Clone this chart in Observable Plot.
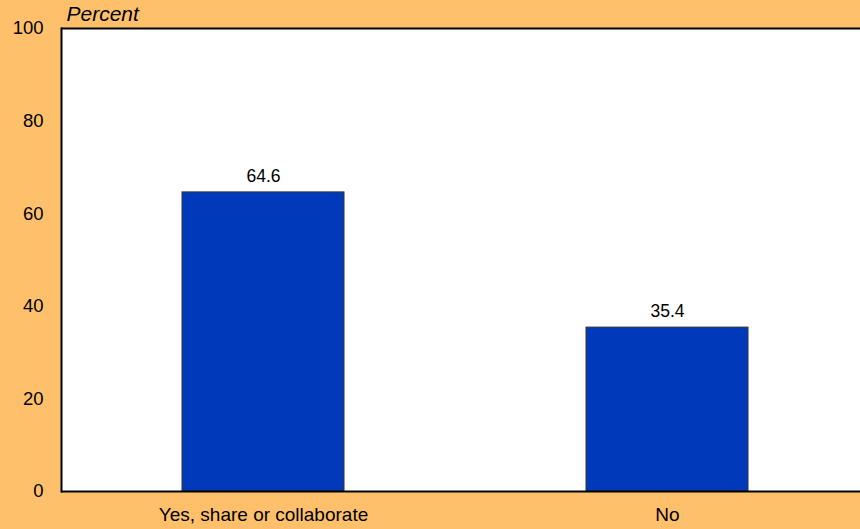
<!DOCTYPE html>
<html>
<head>
<meta charset="utf-8">
<script src="https://cdn.jsdelivr.net/npm/d3@7"></script>
<script src="https://cdn.jsdelivr.net/npm/@observablehq/plot@0.6"></script>
<style>
  html, body { margin: 0; padding: 0; background: #fec06b; overflow: hidden; }
</style>
</head>
<body>
<div id="chart"></div>
<script>
const categories = ["Yes, share or collaborate", "No"];
const values = [64.6, 35.4];
const yTicks = [0, 20, 40, 60, 80, 100];

const data = categories.map((c, i) => ({category: c, value: values[i]}));

const chart = Plot.plot({
  width: 860,
  height: 529,
  marginLeft: 61,
  marginRight: 0,
  marginTop: 28,
  marginBottom: 38,
  style: {background: "#fec06b", fontFamily: "'Liberation Sans', Arial, sans-serif", fontSize: "16px", color: "#000", overflow: "hidden"},
  x: {domain: categories, range: [61, 869], paddingInner: 0.6, paddingOuter: 0.3, label: null, tickSize: 0, tickPadding: 16},
  y: {domain: [0, 100], ticks: yTicks, label: null, tickSize: 0, tickPadding: 18},
  marks: [
    Plot.frame({fill: "white", stroke: null}),
    Plot.barY(data, {x: "category", y: "value", fill: "#003abb", stroke: "#333", strokeWidth: 1}),
    Plot.text(data, {x: "category", y: "value", text: d => d.value.toFixed(1), dy: -16, fontSize: 17.5, fill: "#000"}),
    Plot.frame({anchor: "left", stroke: "#000", strokeWidth: 2}),
    Plot.ruleY([0, 100], {stroke: "#000", strokeWidth: 2}),
    Plot.axisX({tickSize: 0, tickPadding: 16, fontSize: 19, label: null}),
    Plot.axisY({ticks: yTicks, tickSize: 0, tickPadding: 18, fontSize: 18.5, label: null}),
    Plot.text(["Percent"], {frameAnchor: "top-left", dx: 5, dy: -22, fontStyle: "italic", fontSize: 21, fill: "#000"})
  ]
});
document.getElementById("chart").appendChild(chart);
</script>
</body>
</html>
